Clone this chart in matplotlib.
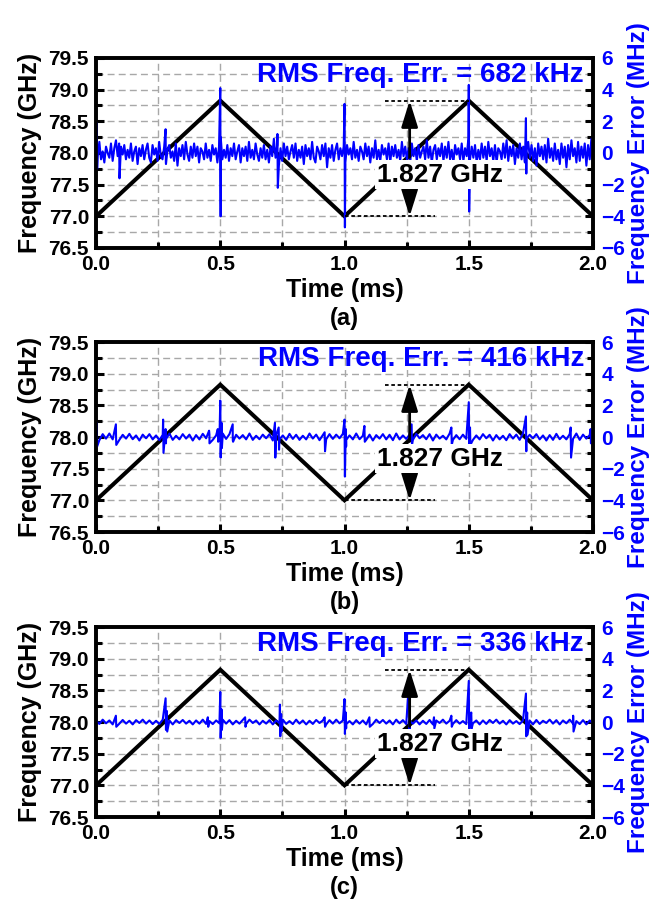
import numpy as np
import matplotlib.pyplot as plt
from matplotlib.ticker import MultipleLocator

plt.rcParams['font.family'] = 'Liberation Sans'
plt.rcParams['font.weight'] = 'bold'
plt.rcParams['axes.labelweight'] = 'bold'

# chirp corner points (ms, GHz)
chirp_t = [0.0, 0.5, 1.0, 1.5, 2.0]
chirp_f = [77.0, 78.827, 77.0, 78.827, 77.0]

rms_labels = ['682 kHz', '416 kHz', '336 kHz']
panel_tags = ['(a)', '(b)', '(c)']

# frequency error baseline noise (MHz), evenly sampled over 0..2 ms
noise_a = [
    0.5, -0.2, 0.7, -0.4, 0.1, -0.6, 0.4, 0.0, -0.3, 0.6,
    -0.5, 0.3, 0.8, -0.2, -0.6, 0.4, -0.1, 0.5, -0.4, 0.2,
    -0.3, 0.6, -0.5, 0.1, 0.4, -0.7, 0.3, -0.2, 0.5, -0.4,
    0.2, 0.6, -0.3, -0.6, 0.5, -0.1, 0.3, -0.5, 0.7, -0.2,
    -0.4, 0.4, -0.6, 0.2, 0.5, -0.3, 0.1, -0.5, 0.6, -0.8,
    0.3, -0.2, 0.5, -0.4, 0.7, -0.1, -0.5, 0.4, -0.3, 0.6,
    -0.2, 0.4, -0.6, 0.3, 0.1, -0.4, 0.6, -0.3, 0.2, -0.5,
    0.5, -0.1, 0.3, -0.6, 0.4, 1.0, -0.4, 0.2, -0.3, 0.5,
    -0.5, 0.3, -0.2, 0.6, -0.4, 0.1, 0.5, -0.6, 0.3, -0.2,
    0.4, -0.5, 0.7, -0.3, 0.2, -0.4, 0.6, -0.1, -0.5, 0.3,
    -0.3, 0.5, -0.4, 0.2, -0.6, 0.4, -0.2, 0.9, -0.3, 0.5,
    -0.8, 0.3, -0.5, 0.6, -0.2, 0.4, -0.4, 0.1, 0.5, -0.3,
    0.6, -0.5, 0.2, -0.3, 0.4, -0.7, 0.5, -0.2, 0.3, -0.4,
    0.7, -0.3, -0.6, 0.4, 0.1, -0.4, 0.5, -0.2, 0.6, -0.9,
    0.3, -0.3, 0.5, -0.5, 0.2, 0.6, -0.4, 0.3, -0.2, 0.4,
    -0.6, 0.5, -0.1, 0.3, -0.4, 0.7, -0.3, 0.2, -0.5, 0.4,
    0.1, -0.4, 0.6, -0.2, 0.4, -0.6, 0.3, -0.3, 0.8, -0.4,
    0.2, -0.5, 0.5, -0.1, 0.3, -0.4, 0.6, -0.6, 0.4, -0.2,
    0.5, -0.3, 0.2, -0.5, 0.7, -0.2, 0.4, -0.4, 0.3, -0.6,
    0.6, -0.2, 0.3, -0.5, 0.5, -0.3, 0.1, 0.4, -0.4, 0.8,
    -0.3, 0.4, -0.6, 0.2, 0.5, -0.4, 0.3, -0.2, 0.6, -0.5,
    0.4, -0.3, 0.7, -0.4, 0.2, -0.6, 0.5, -0.1, 0.3, -0.4,
    0.6, -0.5, 0.3, -0.2, 0.9, -0.4, 0.4, -0.3, 0.5, -0.6,
    0.2, -0.4, 0.6, -0.3, 0.4, -0.5, 0.7, -0.2, 0.3, -0.5,
    0.5, -0.6, 0.3, 0.1, -0.4, 0.6, -0.3, 0.8, -0.5, 0.4,
    -0.2, 0.5, -0.7, 0.3, -0.3, 0.6, -0.4, 0.4, -0.6, 0.2,
    0.7, -0.3, 0.5, -0.5, 0.3, -0.8, 0.6, -0.2, 0.4, -0.4,
    0.5, -0.6, 0.9, -0.3, 0.3, -0.5, 0.6, -0.4, 0.2, -0.7,
    0.6, -0.3, 0.4, -0.9, 0.5, -0.4, 0.8, -0.2, 0.3, -0.6,
    0.7, -0.5, 0.4, -0.3, 0.6, -0.8, 0.5, -0.4, 0.9, -0.6,
]
noise_b = [
    0.15, -0.2, 0.18, -0.1, 0.22, -0.15, 0.08, -0.18, 0.14, -0.1,
    0.2, -0.14, 0.1, -0.22, 0.15, -0.08, 0.18, -0.15, 0.1, -0.2,
    0.14, -0.12, 0.22, -0.18, 0.08, -0.15, 0.18, -0.1, 0.15, -0.22,
    0.12, -0.15, 0.2, -0.08, 0.15, -0.18, 0.1, -0.14, 0.22, -0.12,
    0.18, -0.2, 0.14, -0.1, 0.12, -0.15, 0.22, -0.18, 0.08, -0.14,
    0.15, -0.08, 0.18, -0.22, 0.12, -0.15, 0.1, -0.18, 0.2, -0.12,
    0.14, -0.18, 0.08, -0.15, 0.22, -0.1, 0.15, -0.2, 0.12, -0.14,
    0.18, -0.12, 0.15, -0.08, 0.2, -0.18, 0.1, -0.15, 0.22, -0.14,
    0.08, -0.18, 0.15, -0.22, 0.12, -0.1, 0.18, -0.15, 0.14, -0.2,
    0.22, -0.15, 0.1, -0.12, 0.15, -0.18, 0.2, -0.08, 0.12, -0.14,
    0.18, -0.22, 0.15, -0.1, 0.08, -0.15, 0.22, -0.18, 0.12, -0.14,
    0.15, -0.12, 0.2, -0.18, 0.1, -0.15, 0.18, -0.08, 0.14, -0.22,
    0.12, -0.15, 0.08, -0.2, 0.18, -0.1, 0.15, -0.18, 0.22, -0.12,
    0.14, -0.08, 0.18, -0.15, 0.1, -0.22, 0.12, -0.18, 0.2, -0.14,
    0.08, -0.15, 0.18, -0.12, 0.22, -0.18, 0.15, -0.1, 0.12, -0.14,
]
noise_c = [
    0.1, -0.12, 0.15, -0.08, 0.1, -0.15, 0.06, -0.1, 0.13, -0.1,
    0.08, -0.15, 0.12, -0.06, 0.15, -0.1, 0.1, -0.13, 0.08, -0.12,
    0.15, -0.08, 0.1, -0.15, 0.12, -0.06, 0.13, -0.1, 0.08, -0.15,
    0.1, -0.1, 0.15, -0.12, 0.06, -0.13, 0.1, -0.08, 0.15, -0.1,
    0.12, -0.15, 0.08, -0.1, 0.13, -0.12, 0.15, -0.06, 0.1, -0.15,
    0.08, -0.1, 0.12, -0.15, 0.1, -0.08, 0.15, -0.12, 0.06, -0.13,
    0.15, -0.1, 0.1, -0.15, 0.08, -0.12, 0.13, -0.06, 0.1, -0.15,
    0.12, -0.1, 0.15, -0.08, 0.1, -0.13, 0.06, -0.15, 0.12, -0.1,
    0.1, -0.15, 0.08, -0.12, 0.15, -0.06, 0.13, -0.1, 0.1, -0.15,
    0.15, -0.08, 0.12, -0.13, 0.06, -0.1, 0.1, -0.15, 0.08, -0.12,
    0.13, -0.15, 0.1, -0.06, 0.15, -0.1, 0.08, -0.12, 0.12, -0.1,
    0.06, -0.13, 0.15, -0.08, 0.1, -0.15, 0.1, -0.12, 0.13, -0.06,
    0.15, -0.1, 0.08, -0.15, 0.12, -0.1, 0.06, -0.13, 0.1, -0.08,
    0.1, -0.15, 0.13, -0.12, 0.08, -0.06, 0.15, -0.1, 0.12, -0.15,
    0.1, -0.08, 0.15, -0.1, 0.06, -0.13, 0.12, -0.15, 0.1, -0.1,
]

# spikes: time (ms), max (MHz), min (MHz)
spk_a_t = [0.003, 0.093, 0.28, 0.5, 0.73, 1.0, 1.5, 1.73]
spk_a_hi = [1.9, 0.6, 1.5, 4.1, 1.2, 3.1, 4.3, 2.2]
spk_a_lo = [-1.0, -1.6, -0.7, -4.0, -2.2, -4.7, -3.7, -1.3]

spk_b_t = [0.003, 0.08, 0.27, 0.28, 0.455, 0.49, 0.5, 0.505, 0.55, 0.72, 0.735,
           0.92, 1.0, 1.005, 1.08, 1.27, 1.43, 1.5, 1.505, 1.73, 1.91, 1.99]
spk_b_hi = [0.9, 0.8, 1.1, 0.5, 0.4, 0.5, 2.3, 0.9, 0.8, 0.9, 0.6,
            0.3, 1.1, 0.5, 0.7, 0.8, 0.6, 2.2, 0.6, 1.3, 0.6, 0.5]
spk_b_lo = [-0.6, -0.5, -1.0, -0.4, -0.4, -0.3, -1.3, -0.7, -0.3, -1.3, -0.8,
            -0.9, -2.5, -0.6, -0.3, -0.5, -0.5, -0.7, -0.5, -0.9, -1.3, -0.4]

spk_c_t = [0.08, 0.28, 0.285, 0.45, 0.5, 0.505, 0.6, 0.74, 0.745, 0.92,
           1.0, 1.005, 1.1, 1.26, 1.36, 1.43, 1.5, 1.51, 1.73, 1.735, 1.92]
spk_c_hi = [0.4, 1.5, 0.7, 0.3, 1.9, 0.8, 0.3, 1.1, 0.5, 0.3,
            1.45, 0.6, 0.3, 2.7, 0.3, 0.4, 2.6, 0.6, 1.8, 0.6, 0.4]
spk_c_lo = [-0.3, -0.5, -0.6, -0.3, -1.0, -0.5, -0.3, -0.9, -0.6, -0.3,
            -0.75, -0.4, -0.3, -0.9, -0.4, -0.3, -0.6, -0.4, -0.9, -0.8, -0.6]

noises = [noise_a, noise_b, noise_c]
spikes = [(spk_a_t, spk_a_hi, spk_a_lo),
          (spk_b_t, spk_b_hi, spk_b_lo),
          (spk_c_t, spk_c_hi, spk_c_lo)]


def build_trace(noise, spk):
    t = list(np.linspace(0, 2, len(noise)))
    v = list(noise)
    for ts, hi, lo in zip(*spk):
        t += [ts, ts + 0.0015]
        v += [hi, lo]
    order = np.argsort(t, kind='stable')
    return np.array(t)[order], np.array(v)[order]


fig = plt.figure(figsize=(6.55, 9.06), dpi=100)
bottoms = [0.7263, 0.4128, 0.0982]
blue = '#0000ff'

for i in range(3):
    ax = fig.add_axes([0.1466, bottoms[i], 0.7588, 0.2097])
    ax2 = ax.twinx()

    ax.set_xlim(0, 2)
    ax.set_ylim(76.5, 79.5)
    ax2.set_ylim(-6, 6)

    ax.xaxis.set_major_locator(MultipleLocator(0.5))
    ax.xaxis.set_minor_locator(MultipleLocator(0.25))
    ax.yaxis.set_major_locator(MultipleLocator(0.5))
    ax.yaxis.set_minor_locator(MultipleLocator(0.25))
    ax2.yaxis.set_major_locator(MultipleLocator(2))
    ax2.yaxis.set_minor_locator(MultipleLocator(1))
    ax.xaxis.set_major_formatter(plt.FormatStrFormatter('%.1f'))
    ax.yaxis.set_major_formatter(plt.FormatStrFormatter('%.1f'))

    ax.grid(True, which='both', color='#a8a8a8', linestyle=(0, (5, 3)), lw=1.0)
    ax.set_axisbelow(True)

    for a in (ax, ax2):
        for s in a.spines.values():
            s.set_linewidth(2.6)
    ax.tick_params(which='both', direction='in', width=2.2, labelsize=15,
                   top=False, right=False, pad=5)
    ax.tick_params(which='major', length=6)
    ax.tick_params(which='minor', length=4)
    ax2.tick_params(which='both', direction='in', width=2.2, labelsize=15,
                    labelcolor=blue, pad=6)
    ax2.tick_params(which='major', length=6)
    ax2.tick_params(which='minor', length=4)

    ax.plot(chirp_t, chirp_f, color='black', lw=2.9, solid_joinstyle='miter')
    tt, vv = build_trace(noises[i], spikes[i])
    ax2.plot(tt, vv, color=blue, lw=1.5)

    ax.set_ylabel('Frequency (GHz)', fontsize=18, labelpad=5)
    ax2.set_ylabel('Frequency Error (MHz)', fontsize=17.5, color=blue, labelpad=1)
    ax.set_xlabel('Time (ms)', fontsize=18, labelpad=3)
    ax.text(0.5, -0.37, panel_tags[i], transform=ax.transAxes, ha='center',
            va='center', fontsize=17)

    ax2.text(0.982, 0.912, 'RMS Freq. Err. = ' + rms_labels[i], transform=ax.transAxes,
             ha='right', va='center', color=blue, fontsize=20, zorder=6)

    # bandwidth marker
    ax2.plot([1.163, 1.5], [78.827, 78.827], transform=ax.transData,
             color='black', lw=1.3, ls=(0, (2, 1.5)), zorder=4)
    ax2.plot([1.0, 1.365], [77.0, 77.0], transform=ax.transData,
             color='black', lw=1.3, ls=(0, (2, 1.5)), zorder=4)
    arrow = dict(arrowstyle='-|>,head_length=0.8,head_width=0.25', color='black',
                 lw=2.0, mutation_scale=20, shrinkA=0, shrinkB=0)
    ax2.annotate('', xy=(1.262, 78.827), xytext=(1.262, 77.93),
                 xycoords=ax.transData, textcoords=ax.transData,
                 arrowprops=arrow, zorder=5)
    ax2.annotate('', xy=(1.262, 77.0), xytext=(1.262, 77.42),
                 xycoords=ax.transData, textcoords=ax.transData,
                 arrowprops=arrow, zorder=5)
    ax2.text(1.385, 77.66, '1.827 GHz', transform=ax.transData, ha='center',
             va='center', fontsize=19, zorder=6,
             bbox=dict(facecolor='white', edgecolor='none', pad=1.5))

fig.savefig('out.png', dpi=100)
